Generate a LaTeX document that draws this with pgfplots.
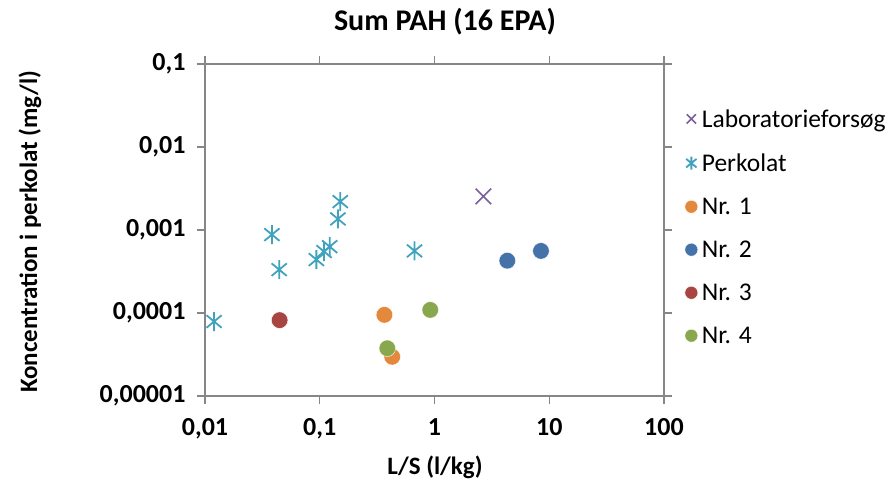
\documentclass[border=0pt]{standalone}
\usepackage{pgfplots}
\pgfplotsset{compat=1.18}
\usepackage{fontspec}
\setmainfont{Carlito}
\definecolor{cpurple}{RGB}{123,94,156}
\definecolor{cteal}{RGB}{63,163,190}
\definecolor{corange}{RGB}{228,136,60}
\definecolor{cblue}{RGB}{70,114,170}
\definecolor{cred}{RGB}{168,68,66}
\definecolor{cgreen}{RGB}{137,168,78}
\definecolor{cframe}{RGB}{134,134,134}
\pgfdeclareplotmark{xstar}{%
  \pgfpathmoveto{\pgfqpoint{0pt}{\pgfplotmarksize}}%
  \pgfpathlineto{\pgfqpoint{0pt}{-\pgfplotmarksize}}%
  \pgfpathmoveto{\pgfqpoint{0.8\pgfplotmarksize}{0.66\pgfplotmarksize}}%
  \pgfpathlineto{\pgfqpoint{-0.8\pgfplotmarksize}{-0.66\pgfplotmarksize}}%
  \pgfpathmoveto{\pgfqpoint{-0.8\pgfplotmarksize}{0.66\pgfplotmarksize}}%
  \pgfpathlineto{\pgfqpoint{0.8\pgfplotmarksize}{-0.66\pgfplotmarksize}}%
  \pgfusepathqstroke}
\begin{document}
\begin{tikzpicture}[x=1pt,y=1pt]
\path[use as bounding box] (0,0) rectangle (893,481);
\begin{axis}[
  at={(205pt,85pt)}, anchor=south west,
  width=459pt, height=332pt, scale only axis,
  xmode=log, ymode=log,
  xmin=0.01, xmax=100, ymin=0.00001, ymax=0.1,
  axis line style={cframe, line width=1.5pt},
  every tick/.style={cframe, line width=1.5pt},
  tick align=outside, major tick length=8pt,
  minor tick num=0,
  xtick={0.01,0.1,1,10,100},
  xticklabels={{0,01},{0,1},1,10,100},
  ytick={0.00001,0.0001,0.001,0.01,0.1},
  yticklabels={{0,00001},{0,0001},{0,001},{0,01},{0,1}},
  tick label style={font=\fontsize{26}{31}\selectfont\bfseries},
  xticklabel style={yshift=-11pt},
  yticklabel style={xshift=-8pt},
  log basis x=10, log basis y=10,
  legend style={at={(1.045,0.87)}, anchor=north west, draw=none, fill=none,
    font=\fontsize{25.5}{30}\selectfont, row sep=21pt, inner sep=0pt,
    /tikz/every odd column/.append style={column sep=2pt}},
  legend cell align=left,
  legend image code/.code={\draw[mark size=6.5pt] plot coordinates {(0pt,0pt)};},
  clip=false,
]
\addplot[only marks, mark=x, mark size=11pt, draw=cpurple, line width=1.6pt]
  coordinates {(2.67,0.00254)};
\addlegendentry{Laboratorieforsøg}
\addplot[only marks, mark=xstar, mark size=9.5pt, draw=cteal, line width=1.8pt]
  coordinates {(0.012,0.000079) (0.0383,0.00088) (0.0443,0.000333) (0.0935,0.00044)
   (0.109,0.00055) (0.122,0.00063) (0.144,0.00136) (0.151,0.0022) (0.67,0.00056)};
\addlegendentry{Perkolat}
\addplot[only marks, mark=*, mark size=8.3pt, draw=white, line width=0.4pt, fill=corange]
  coordinates {(0.366,0.000095) (0.428,0.0000297)};
\addlegendentry{Nr. 1}
\addplot[only marks, mark=*, mark size=8.3pt, draw=white, line width=0.4pt, fill=cblue]
  coordinates {(4.31,0.000427) (8.47,0.00056)};
\addlegendentry{Nr. 2}
\addplot[only marks, mark=*, mark size=8.3pt, draw=white, line width=0.4pt, fill=cred]
  coordinates {(0.0447,0.000082)};
\addlegendentry{Nr. 3}
\addplot[only marks, mark=*, mark size=8.3pt, draw=white, line width=0.4pt, fill=cgreen]
  coordinates {(0.388,0.0000376) (0.918,0.000109)};
\addlegendentry{Nr. 4}
\end{axis}
\node[font=\fontsize{30}{36}\selectfont\bfseries] at (445,459) {Sum PAH (16 EPA)};
\node[font=\fontsize{25}{30}\selectfont\bfseries] at (435,14) {L/S (l/kg)};
\node[font=\fontsize{25}{30}\selectfont\bfseries, rotate=90] at (30,249) {Koncentration i perkolat (mg/l)};
\end{tikzpicture}
\end{document}
